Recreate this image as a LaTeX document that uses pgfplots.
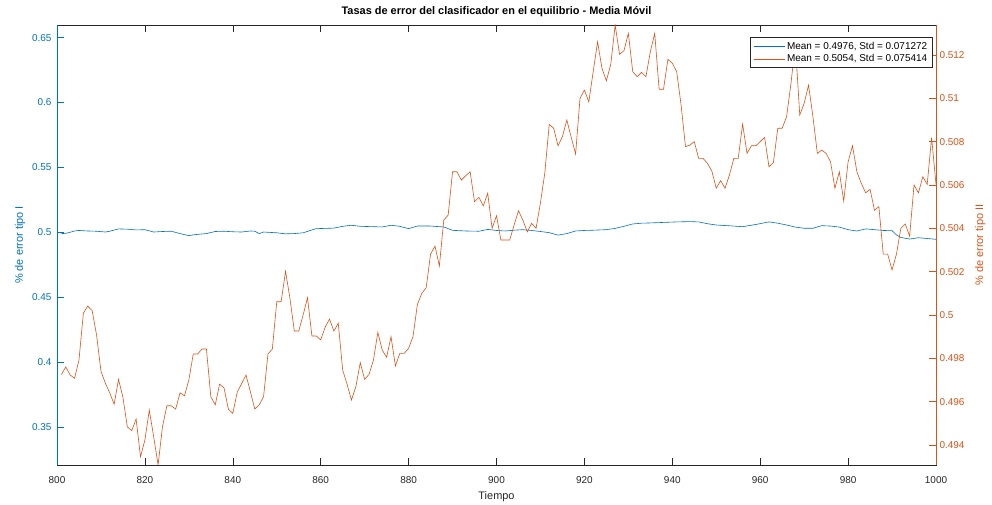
\documentclass[border=0pt]{standalone}
\usepackage{fontspec}
\setmainfont{Liberation Sans}
\usepackage{pgfplots}
\pgfplotsset{compat=1.18}
\definecolor{mblue}{rgb}{0,0.447,0.741}
\definecolor{morange}{rgb}{0.85,0.325,0.098}
\definecolor{mgray}{rgb}{0.15,0.15,0.15}
\begin{document}
\begin{tikzpicture}
\path[use as bounding box] (-57bp,-40bp) rectangle (935bp,465bp);
\begin{axis}[
  at={(0,0)}, anchor=south west,
  scale only axis, width=879bp, height=440bp,
  xmin=800, xmax=1000, ymin=0.3207, ymax=0.6597,
  xtick={800,820,840,860,880,900,920,940,960,980,1000},
  ytick={0.35,0.4,0.45,0.5,0.55,0.6,0.65},
  xtick pos=both, ytick pos=left,
  tick align=inside, major tick length=7bp,
  axis line style={mgray, line width=0.6bp},
  x tick style={mgray, line width=0.6bp},
  y tick style={mblue, line width=0.6bp},
  tick label style={font=\fontsize{10}{12}\selectfont},
  xticklabel style={text=mgray, yshift=-8bp, /pgf/number format/set thousands separator={}},
  yticklabel style={text=mblue, xshift=-2bp},
  /pgf/number format/assume math mode=true,
  scaled y ticks=false, scaled x ticks=false,
  xlabel={Tiempo},
  xlabel style={font=\fontsize{11}{13}\selectfont, text=mgray, yshift=-1bp},
  ylabel={\% de error tipo I},
  ylabel style={font=\fontsize{11}{13}\selectfont, text=mblue},
  title={Tasas de error del clasificador en el equilibrio - Media Móvil},
  title style={font=\bfseries\fontsize{11}{13}\selectfont, text=black, yshift=-1bp},
]
\addplot[mblue, line width=0.6bp] table {
801 0.4990
802 0.4992
803 0.5000
804 0.5010
805 0.5014
807 0.5010
809 0.5008
811 0.5002
812 0.5008
814 0.5026
816 0.5024
818 0.5018
820 0.5020
822 0.5002
824 0.5006
826 0.5008
828 0.4990
830 0.4974
831 0.4980
832 0.4984
834 0.4990
836 0.5006
838 0.5008
840 0.5004
842 0.5002
844 0.5010
845 0.5008
846 0.4990
847 0.5002
850 0.4996
852 0.4988
854 0.4990
856 0.4996
858 0.5018
859 0.5028
861 0.5030
863 0.5032
865 0.5046
867 0.5054
869 0.5046
871 0.5044
874 0.5041
876 0.5054
878 0.5046
880 0.5028
882 0.5048
885 0.5048
888 0.5041
890 0.5015
893 0.5010
896 0.5008
898 0.5022
900 0.5014
902 0.5010
904 0.5016
906 0.5020
908 0.5014
910 0.5006
912 0.4997
914 0.4978
916 0.4990
918 0.5010
920 0.5014
922 0.5016
925 0.5020
927 0.5030
929 0.5046
931 0.5064
933 0.5070
935 0.5072
938 0.5076
941 0.5080
944 0.5082
946 0.5080
948 0.5066
950 0.5056
953 0.5050
956 0.5043
959 0.5060
962 0.5080
964 0.5070
966 0.5056
968 0.5040
970 0.5031
972 0.5031
974 0.5051
976 0.5048
978 0.5040
980 0.5020
982 0.5010
984 0.5026
986 0.5020
988 0.5014
990 0.5012
991 0.4980
992 0.4960
994 0.4948
996 0.4958
998 0.4952
1000 0.4946
};
\draw[mblue, line width=0.6bp] (rel axis cs:0,0) -- (rel axis cs:0,1);
\end{axis}
\begin{axis}[
  at={(0,0)}, anchor=south west,
  scale only axis, width=879bp, height=440bp,
  xmin=800, xmax=1000, ymin=0.493077, ymax=0.513385,
  axis x line=none, axis y line=right,
  y axis line style={morange, line width=0.6bp, -},
  ytick={0.494,0.496,0.498,0.5,0.502,0.504,0.506,0.508,0.51,0.512},
  tick align=inside, major tick length=7bp,
  y tick style={morange, line width=0.6bp},
  tick label style={font=\fontsize{10}{12}\selectfont},
  yticklabel style={text=morange, /pgf/number format/.cd, fixed, precision=3},
  /pgf/number format/assume math mode=true,
  scaled y ticks=false,
  ylabel={\% de error tipo II},
  ylabel style={font=\fontsize{11}{13}\selectfont, text=morange, yshift=-4bp},
  legend style={at={(0.9966,0.9727)}, anchor=north east, draw=mgray,
    fill=white, font=\fontsize{10}{12}\selectfont, inner xsep=4bp, inner ysep=3bp,
    line width=0.6bp, row sep=1bp,
    nodes={inner sep=1.5bp}},
  legend cell align=left,
  legend image code/.code={\draw[#1] (0bp,0bp) -- (31bp,0bp);},
]
\addlegendimage{mblue, line width=0.6bp}
\addlegendentry{Mean = 0.4976, Std = 0.071272}
\addplot[morange, line width=0.6bp] table {
801 0.49726
802 0.49760
803 0.49723
804 0.49708
805 0.49792
806 0.50008
807 0.50041
808 0.50020
809 0.49908
810 0.49741
811 0.49685
812 0.49641
813 0.49588
814 0.49703
815 0.49620
816 0.49484
817 0.49466
818 0.49520
819 0.49346
820 0.49423
821 0.49561
822 0.49438
823 0.49308
824 0.49484
825 0.49581
826 0.49581
827 0.49566
828 0.49641
829 0.49627
830 0.49700
831 0.49820
832 0.49820
833 0.49843
834 0.49843
835 0.49623
836 0.49585
837 0.49681
838 0.49664
839 0.49565
840 0.49546
841 0.49643
842 0.49683
843 0.49723
844 0.49646
845 0.49566
846 0.49585
847 0.49623
848 0.49820
849 0.49843
850 0.50061
851 0.50061
852 0.50202
853 0.50077
854 0.49926
855 0.49926
856 0.50000
857 0.50080
858 0.49903
859 0.49903
860 0.49885
861 0.49943
862 0.49981
863 0.49926
864 0.49962
865 0.49746
866 0.49680
867 0.49608
868 0.49669
869 0.49780
870 0.49703
871 0.49726
872 0.49792
873 0.49920
874 0.49838
875 0.49805
876 0.49900
877 0.49765
878 0.49823
879 0.49823
880 0.49846
881 0.49900
882 0.50049
883 0.50100
884 0.50126
885 0.50281
886 0.50318
887 0.50226
888 0.50438
889 0.50461
890 0.50661
891 0.50661
892 0.50623
893 0.50643
894 0.50661
895 0.50523
896 0.50543
897 0.50504
898 0.50562
899 0.50400
900 0.50458
901 0.50346
902 0.50346
903 0.50346
904 0.50415
905 0.50481
906 0.50438
907 0.50384
908 0.50423
909 0.50400
910 0.50518
911 0.50657
912 0.50880
913 0.50862
914 0.50781
915 0.50823
916 0.50900
917 0.50820
918 0.50743
919 0.51000
920 0.51038
921 0.50984
922 0.51123
923 0.51261
924 0.51138
925 0.51081
926 0.51157
927 0.51338
928 0.51203
929 0.51220
930 0.51300
931 0.51123
932 0.51100
933 0.51120
934 0.51100
935 0.51215
936 0.51300
937 0.51042
938 0.51042
939 0.51180
940 0.51162
941 0.51123
942 0.50969
943 0.50777
944 0.50784
945 0.50800
946 0.50723
947 0.50723
948 0.50700
949 0.50664
950 0.50585
951 0.50620
952 0.50585
953 0.50646
954 0.50723
955 0.50723
956 0.50881
957 0.50746
958 0.50781
959 0.50781
960 0.50800
961 0.50820
962 0.50684
963 0.50703
964 0.50862
965 0.50862
966 0.50915
967 0.51069
968 0.51250
969 0.50923
970 0.50977
971 0.51061
972 0.50915
973 0.50746
974 0.50761
975 0.50746
976 0.50707
977 0.50585
978 0.50661
979 0.50526
980 0.50707
981 0.50781
982 0.50661
983 0.50608
984 0.50564
985 0.50580
986 0.50484
987 0.50500
988 0.50281
989 0.50281
990 0.50208
991 0.50281
992 0.50400
993 0.50420
994 0.50364
995 0.50600
996 0.50564
997 0.50638
998 0.50603
999 0.50819
1000 0.50603
};
\addlegendentry{Mean = 0.5054, Std = 0.075414}
\end{axis}
\end{tikzpicture}
\end{document}
